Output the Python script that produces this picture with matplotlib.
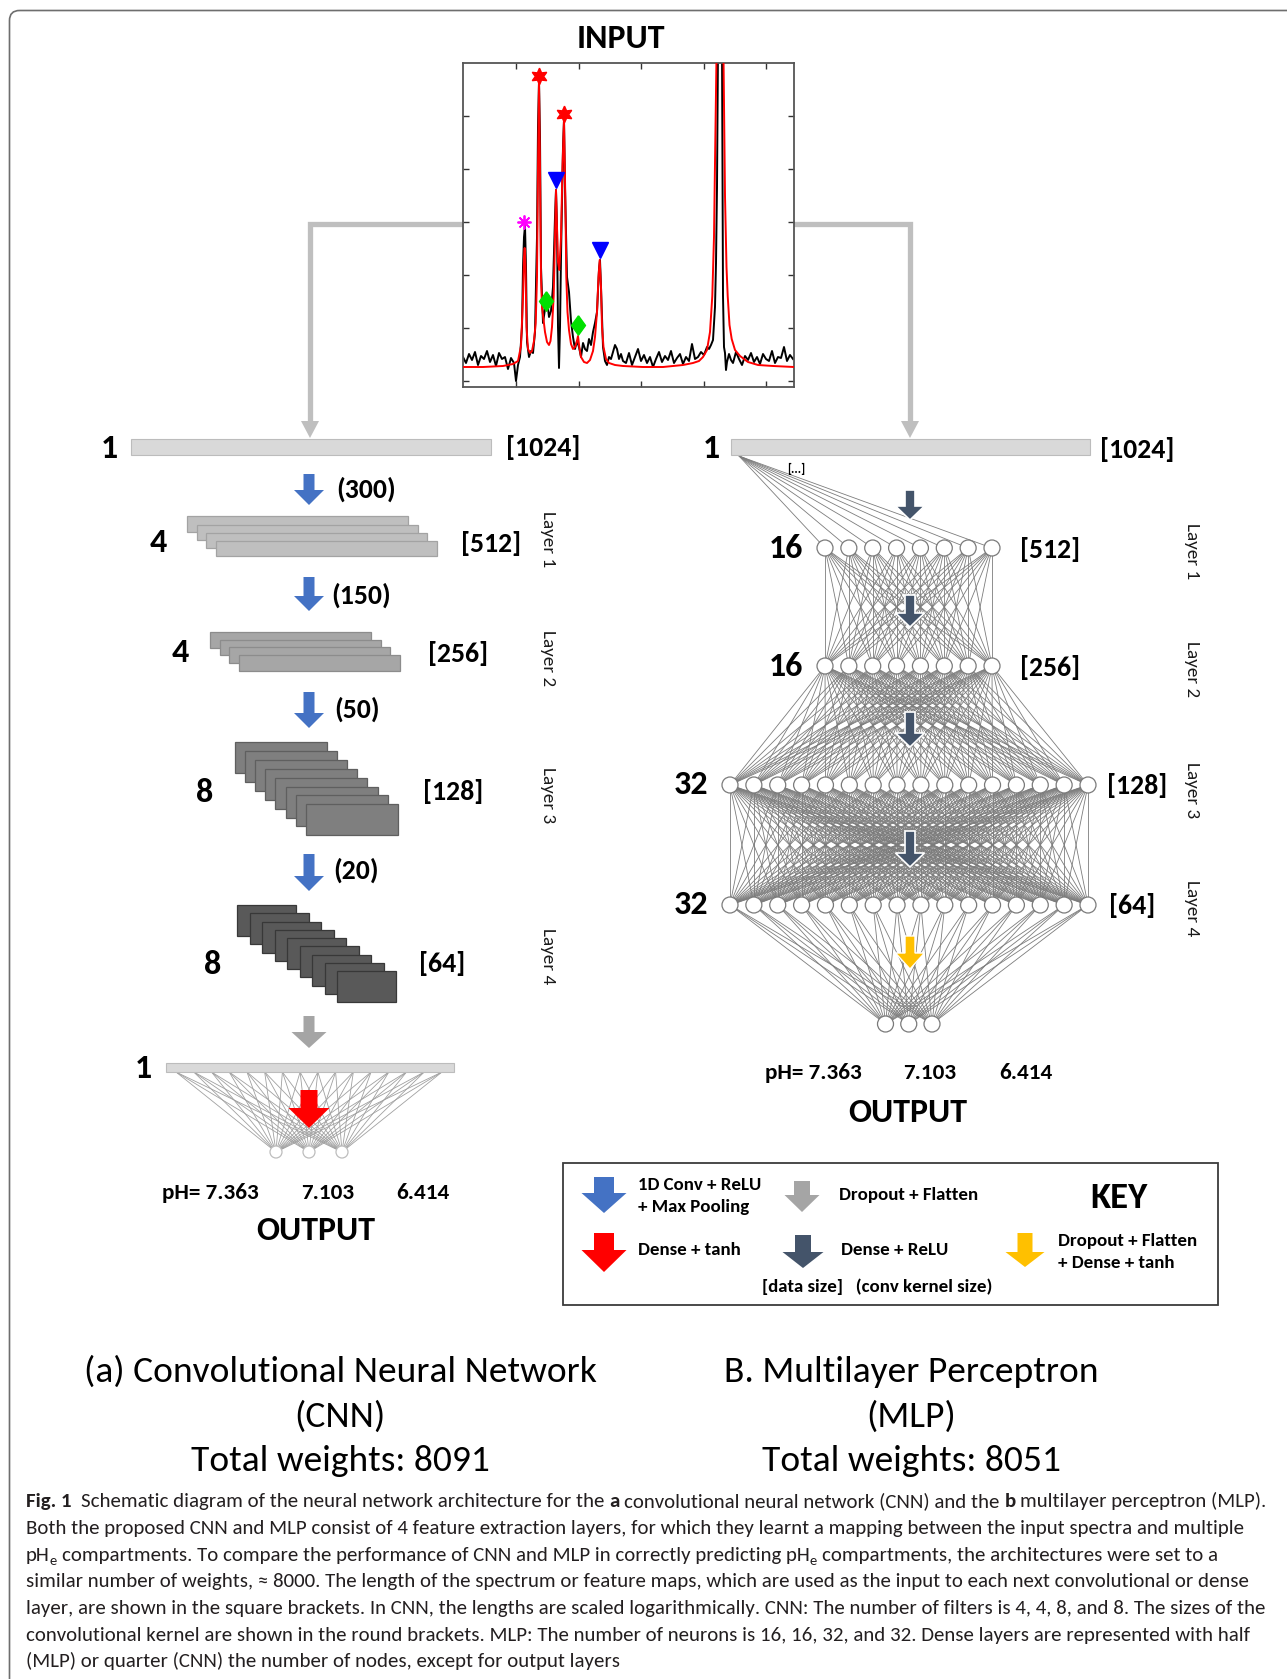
import numpy as np
import matplotlib
matplotlib.use("Agg")
import matplotlib.pyplot as plt
from matplotlib import font_manager as fm
from matplotlib.patches import Rectangle, Polygon, Circle, FancyBboxPatch
from matplotlib.collections import LineCollection

# ---------------- data ----------------
input_length = 1024
cnn_lengths = [512, 256, 128, 64]
cnn_filters = [4, 4, 8, 8]
cnn_kernels = [300, 150, 50, 20]
mlp_lengths = [512, 256, 128, 64]
mlp_neurons = [16, 16, 32, 32]
ph_outputs = [7.363, 7.103, 6.414]
cnn_total_weights = 8091
mlp_total_weights = 8051

# input spectrum (arbitrary units)
spec_x = [0, 3, 6, 9, 12, 15, 18, 21, 24, 27, 30, 33, 36, 39, 42, 45, 48, 51, 53, 55,
          57, 59, 60, 61, 62, 63, 64, 66, 68, 70, 72, 74, 75, 76, 77, 78, 80, 82, 84, 86,
          88, 90, 92, 93, 94, 95, 96, 97, 98, 100, 101, 102, 104, 106, 108, 110, 112, 114, 116, 118,
          120, 122, 124, 126, 128, 130, 132, 134, 136, 137, 138, 140, 142, 144, 146, 148, 150, 152, 154, 156,
          158, 160, 163, 166, 169, 172, 175, 178, 181, 184, 187, 190, 193, 196, 199, 202, 205, 208, 211, 214,
          217, 220, 223, 226, 229, 232, 235, 238, 241, 244, 246, 248, 250, 252, 253, 254, 255, 257, 259, 260,
          261, 262, 263, 264, 266, 268, 270, 273, 276, 279, 282, 285, 288, 291, 294, 297, 300, 303, 306, 309,
          312, 315, 318, 321, 324, 327, 330]
spec_black = [30, 24, 33, 27, 35, 22, 31, 28, 36, 25, 32, 21, 34, 28, 30, 18, 29, 24, 6, 22,
              30, 60, 120, 150, 161, 120, 45, 30, 36, 34, 55, 150, 260, 306, 250, 120, 64, 78, 88, 70,
              76, 100, 170, 197, 160, 60, 19, 60, 130, 240, 267, 200, 110, 95, 66, 50, 38, 46, 40, 30,
              44, 38, 36, 48, 42, 55, 64, 75, 118, 127, 100, 40, 26, 22, 30, 28, 35, 42, 38, 28,
              33, 26, 24, 34, 22, 30, 38, 26, 32, 24, 30, 20, 28, 35, 25, 31, 27, 36, 24, 29,
              33, 23, 30, 26, 43, 28, 30, 35, 32, 40, 38, 42, 47, 80, 124, 200, 340, 360, 340, 91,
              40, 34, 17, 25, 33, 27, 24, 35, 28, 22, 31, 27, 34, 25, 30, 23, 33, 28, 26, 36,
              24, 30, 29, 40, 26, 32, 28]
fit_x = [0, 20, 40, 50, 55, 58, 60, 61, 61.7, 62.5, 63.5, 65, 67, 69, 71, 72.7, 74, 75, 76, 77,
         78, 79, 80.7, 82, 84, 86, 87.5, 89, 90.7, 92, 93, 94, 95, 96.3, 98, 99.5, 101, 102.3, 103.3, 104.5,
         106, 108, 110, 112, 113.5, 115, 116.3, 118, 121, 124, 127, 130, 132, 134, 135.5, 136.7, 138, 139, 140.5, 143,
         146, 152, 160, 180, 200, 220, 230, 236, 240, 244, 247, 249.3, 251, 252, 253.5, 257, 260.5, 262, 263.5, 264.7,
         266.5, 268.7, 272, 277, 285, 295, 310, 331]
fit_red = [20, 20, 21, 23, 26, 41, 90, 130, 139, 120, 60, 38, 34, 36, 46, 64, 110, 220, 306, 220,
           110, 80, 66, 55, 45, 42, 46, 60, 91, 150, 197, 160, 125, 117, 150, 220, 267, 190, 110, 75,
           57, 43, 38, 40, 44, 51, 40, 30, 25, 24, 27, 36, 50, 75, 110, 127, 100, 60, 40, 28,
           24, 22, 21, 20, 20, 22, 24, 26, 30, 37, 55, 91, 150, 224, 330, 500, 330, 191, 120, 91,
           62, 48, 37, 31, 25, 22, 21, 20]
star_x, star_y = [76, 101], [311, 273]
tri_x, tri_y = [93, 136.7], [207, 137]
dia_x, dia_y = [82.7, 115], [86, 62]
ast_x, ast_y = [61], [165]
spec_xticks = [53.3, 115.8, 178.3, 240.8, 303.3]
spec_yticks = [5.7, 58.7, 111.7, 164.7, 217.7, 270.7]

# ---------------- fonts ----------------
_names = {f.name for f in fm.fontManager.ttflist}
def pick(cands):
    for c in cands:
        if c in _names:
            return c
    return "DejaVu Sans"
DIAG = pick(["Carlito", "Lato", "Open Sans", "DejaVu Sans"])
CAPF = pick(["Carlito", "Liberation Sans Narrow", "Roboto", "Lato", "DejaVu Sans"])

W, H = 1287, 1679
fig = plt.figure(figsize=(W / 100, H / 100), dpi=100)
ax = fig.add_axes([0, 0, 1, 1])
ax.set_xlim(0, W)
ax.set_ylim(H, 0)
ax.axis("off")
renderer = fig.canvas.get_renderer()


def T(x, y, s, size, bold=True, **kw):
    kw.setdefault("ha", "center")
    kw.setdefault("va", "center")
    color = kw.pop("color", "black")
    return ax.text(x, y, s, fontsize=size, fontweight="bold" if bold else "normal",
                   family=DIAG, color=color, **kw)


def down_arrow(x, y0, y1, yh, sw, hw, color, ec="none", lw=0.0, z=6):
    pts = [(x - sw / 2, y0), (x + sw / 2, y0), (x + sw / 2, yh), (x + hw / 2, yh),
           (x, y1), (x - hw / 2, yh), (x - sw / 2, yh)]
    ax.add_patch(Polygon(pts, closed=True, fc=color, ec=ec, lw=lw, zorder=z, joinstyle="miter"))


# text sizes (pt)
S_BIG = 24.5      # INPUT / OUTPUT / layer counts
S_LEN = 20        # [1024], (300)
S_PH = 16.7
S_LAYER = 13.8
S_KEY = 13.6

# outer rounded frame
ax.add_patch(FancyBboxPatch((9.5, 10.5), 1500, 1900, boxstyle="round,pad=0,rounding_size=10",
                            fc="none", ec="#6e6e6e", lw=1.2, zorder=1))

# ---------------- INPUT ----------------
T(621, 38, "INPUT", S_BIG)
sax = fig.add_axes([463 / W, 1 - 387 / H, 331 / W, 324 / H], zorder=3)
sax.plot(spec_x, spec_black, color="black", lw=1.4, zorder=2)
sax.plot(fit_x, fit_red, color="#ff0000", lw=1.4, zorder=3)
sax.plot(star_x, star_y, ls="none", marker=(6, 1, 0), ms=12, color="#ff0000", zorder=5)
sax.plot(tri_x, tri_y, ls="none", marker="v", ms=11, color="#0000ff", zorder=5)
sax.plot(dia_x, dia_y, ls="none", marker=[(0, 1), (0.72, 0), (0, -1), (-0.72, 0), (0, 1)],
         ms=14, color="#00e000", zorder=5)
sax.plot(ast_x, ast_y, ls="none", marker=(8, 2, 0), ms=10, mew=1.3, color="#ff00ff", zorder=5)
sax.set_xlim(0, 331)
sax.set_ylim(0, 324)
sax.set_xticks(spec_xticks)
sax.set_yticks(spec_yticks)
sax.tick_params(direction="in", length=4, width=1, top=True, right=True,
                labelbottom=False, labelleft=False, color="#333333")
for sp in sax.spines.values():
    sp.set_color("#555555")
    sp.set_linewidth(1.3)

# connectors from the spectrum
conn_c = "#bfbfbf"
ax.plot([463, 310, 310], [223.5, 223.5, 424], color=conn_c, lw=3.8, solid_joinstyle="miter", zorder=2)
ax.plot([794, 910, 910], [223.5, 223.5, 424], color=conn_c, lw=3.8, solid_joinstyle="miter", zorder=2)
for cx in (310, 910):
    ax.add_patch(Polygon([(cx - 9, 421), (cx + 9, 421), (cx, 438)], fc=conn_c, ec="none", zorder=4))

# ---------------- CNN ----------------
ax.add_patch(Rectangle((131, 439), 360, 16, fc="#d9d9d9", ec="#bcbcbc", lw=0.8, zorder=3))
T(109, 448, "1", S_BIG)
T(543, 448, f"[{input_length}]", S_LEN)

blue = "#4472c4"
cnn_arrows = [(474, 505), (577, 611), (692, 728), (854, 891)]
kernel_pos = [(366, 489), (361, 595), (357, 709), (356, 870)]
for (y0, y1), (kx, ky), k in zip(cnn_arrows, kernel_pos, cnn_kernels):
    down_arrow(309, y0, y1, y1 - 15, 11, 30, blue)
    T(kx, ky, f"({k})", S_LEN)

# feature map stacks: x0, y0, w, h, dx, dy, n drawn, face, edge
stacks = [
    (187, 516.4, 221, 15.5, 9.7, 8.1, 4, "#bfbfbf", "#a3a3a3"),
    (210, 632, 161, 15.7, 9.7, 7.7, 4, "#a6a6a6", "#8c8c8c"),
    (235, 742, 92, 31, 10.1, 8.9, 8, "#7f7f7f", "#5f5f5f"),
    (237, 905, 59, 31, 12.5, 8.25, 9, "#595959", "#383838"),
]
for (x0, y0, w, h, dx, dy, n, fc, ec) in stacks:
    for i in range(n):
        ax.add_patch(Rectangle((x0 + i * dx, y0 + i * dy), w, h, fc=fc, ec=ec, lw=0.9, zorder=3 + i * 0.01))

cnn_filter_pos = [(158, 543), (180, 653), (205, 792), (213, 964)]
cnn_len_pos = [(491, 543), (458, 653), (453, 792), (442, 964)]
cnn_layer_y = [539, 658, 795, 956]
for i in range(4):
    T(*cnn_filter_pos[i], str(cnn_filters[i]), S_BIG)
    T(*cnn_len_pos[i], f"[{cnn_lengths[i]}]", S_LEN)
    T(548, cnn_layer_y[i], f"Layer {i + 1}", S_LAYER, bold=False, rotation=-90, color="#1a1a1a")

# flatten + output
down_arrow(309, 1016, 1048, 1032, 11, 35, "#a5a5a5")
ax.add_patch(Rectangle((166, 1063), 288, 9, fc="#d9d9d9", ec="#bcbcbc", lw=0.8, zorder=3))
T(143, 1068, "1", S_BIG)
cnn_out_x = np.array([276, 309, 342])
tops = np.linspace(176, 442, 16)
segs = [[(tx, 1072), (ox, 1152)] for tx in tops for ox in cnn_out_x]
ax.add_collection(LineCollection(segs, colors="#a0a0a0", linewidths=0.6, zorder=2))
for ox in cnn_out_x:
    ax.add_patch(Circle((ox, 1152), 6, fc="white", ec="#bdbdbd", lw=0.9, zorder=4))
down_arrow(309, 1090, 1128, 1108, 17, 41, "#ff0000", z=7)
for px, val in zip([210, 328, 423], ph_outputs):
    T(px, 1193, (f"pH= {val:.3f}" if px == 210 else f"{val:.3f}"), S_PH)
T(316, 1230, "OUTPUT", S_BIG)

# ---------------- MLP ----------------
ax.add_patch(Rectangle((730.6, 439), 359.2, 16, fc="#d9d9d9", ec="#bcbcbc", lw=0.8, zorder=3))
T(711.7, 449, "1", S_BIG)
T(1137, 449, f"[{input_length}]", S_LEN)
T(796, 469, "[...]", 9)

mlp_drawn = [n // 2 for n in mlp_neurons]
layer_span = {8: (825, 992), 16: (730, 1088)}
mlp_y = [548, 666, 785, 905]
layers = [np.linspace(*layer_span[n], n) for n in mlp_drawn]
out_x = np.linspace(885.5, 932, len(ph_outputs))
out_y = 1024
segs = [[(739, 456), (x, mlp_y[0])] for x in layers[0]]
for li in range(3):
    segs += [[(a, mlp_y[li]), (b, mlp_y[li + 1])] for a in layers[li] for b in layers[li + 1]]
segs += [[(a, mlp_y[3]), (b, out_y)] for a in layers[3] for b in out_x]
ax.add_collection(LineCollection(segs, colors="#7c7c7c", linewidths=0.6, zorder=2))
for li in range(4):
    for x in layers[li]:
        ax.add_patch(Circle((x, mlp_y[li]), 8, fc="white", ec="#7a7a7a", lw=0.9, zorder=4))
for x in out_x:
    ax.add_patch(Circle((x, out_y), 8, fc="white", ec="#7a7a7a", lw=0.9, zorder=4))

dark = "#44546a"
for (y0, y1) in [(490, 520), (595, 627), (712, 747), (831, 867)]:
    down_arrow(910, y0, y1, y1 - 14, 10, 29, dark, ec="white", lw=1.2, z=7)
down_arrow(910, 936, 969, 953, 10, 29, "#ffc000", ec="white", lw=1.0, z=7)

mlp_num_pos = [(786, 549), (786, 667), (691, 785), (691, 905)]
mlp_len_pos = [(1050, 549), (1050, 667), (1137, 785), (1132, 905)]
mlp_layer_y = [551, 669, 790, 908]
for i in range(4):
    T(*mlp_num_pos[i], str(mlp_neurons[i]), S_BIG)
    T(*mlp_len_pos[i], f"[{mlp_lengths[i]}]", S_LEN)
    T(1192, mlp_layer_y[i], f"Layer {i + 1}", S_LAYER, bold=False, rotation=-90, color="#1a1a1a")
for px, val in zip([813, 930, 1026], ph_outputs):
    T(px, 1073, (f"pH= {val:.3f}" if px == 813 else f"{val:.3f}"), S_PH)
T(908, 1113, "OUTPUT", S_BIG)

# ---------------- KEY ----------------
ax.add_patch(Rectangle((563, 1163), 655, 142, fc="none", ec="#3c3c3c", lw=1.3, zorder=3))
down_arrow(604, 1177, 1213, 1193, 20, 45, blue)
down_arrow(802, 1181, 1212, 1195, 16, 35, "#a5a5a5")
down_arrow(604, 1233, 1272, 1250, 20, 45, "#ff0000")
down_arrow(803, 1235, 1268, 1252, 16, 41, dark)
down_arrow(1025, 1233, 1267, 1252, 15, 39, "#ffc000")
T(638, 1185, "1D Conv + ReLU", S_KEY, ha="left")
T(638, 1207, "+ Max Pooling", S_KEY, ha="left")
T(839, 1195, "Dropout + Flatten", S_KEY, ha="left")
T(1119, 1198, "KEY", 26.5)
T(638, 1250, "Dense + tanh", S_KEY, ha="left")
T(841, 1250, "Dense + ReLU", S_KEY, ha="left")
T(762, 1287, "[data size]   (conv kernel size)", S_KEY, ha="left")
T(1058, 1241, "Dropout + Flatten", S_KEY, ha="left")
T(1058, 1263, "+ Dense + tanh", S_KEY, ha="left")

# ---------------- titles ----------------
probe = ax.text(0, 0, "(a) Convolutional Neural Network", fontsize=20, family=CAPF)
TS = 20 * 512 / probe.get_window_extent(renderer).width
probe.remove()
titles = [
    (340, 1372, "(a) Convolutional Neural Network"),
    (340, 1417, "(CNN)"),
    (340, 1461, f"Total weights: {cnn_total_weights}"),
    (911, 1372, "B. Multilayer Perceptron"),
    (911, 1417, "(MLP)"),
    (911, 1461, f"Total weights: {mlp_total_weights}"),
]
for x, y, s in titles:
    ax.text(x, y, s, fontsize=TS, family=CAPF, ha="center", va="center", color="black")

# ---------------- caption ----------------
f_str = ", ".join(str(v) for v in cnn_filters[:-1]) + f", and {cnn_filters[-1]}"
n_str = ", ".join(str(v) for v in mlp_neurons[:-1]) + f", and {mlp_neurons[-1]}"
cap_lines = [
    [("Fig. 1", "b", 0), ("Schematic diagram of the neural network architecture for the", "n", 2),
     ("a", "b", 1), ("convolutional neural network (CNN) and the", "n", 1), ("b", "b", 1),
     ("multilayer perceptron (MLP).", "n", 1)],
    [("Both the proposed CNN and MLP consist of 4 feature extraction layers, for which they learnt a mapping between the input spectra and multiple", "n", 0)],
    [("pH", "n", 0), ("e", "s", 0), ("compartments. To compare the performance of CNN and MLP in correctly predicting pH", "n", 1),
     ("e", "s", 0), ("compartments, the architectures were set to a", "n", 1)],
    [("similar number of weights, \u2248 8000. The length of the spectrum or feature maps, which are used as the input to each next convolutional or dense", "n", 0)],
    [(f"layer, are shown in the square brackets. In CNN, the lengths are scaled logarithmically. CNN: The number of filters is {f_str}. The sizes of the", "n", 0)],
    [(f"convolutional kernel are shown in the round brackets. MLP: The number of neurons is {n_str}. Dense layers are represented with half", "n", 0)],
    [("(MLP) or quarter (CNN) the number of nodes, except for output layers", "n", 0)],
]
cap_targets = [1240, 1217, 1196, 1217, 1215, 1203]
cap_base = [1507, 1534, 1561, 1587, 1614, 1641, 1667]
CAPC = "#231f20"


def tok_w(s, size, style):
    t = ax.text(0, 0, s, fontsize=size * (0.7 if style == "s" else 1.0),
                fontweight="bold" if style == "b" else "normal", family=CAPF)
    w = t.get_window_extent(renderer).width
    t.remove()
    return w


def line_layout(tokens, size, x0=None, y=None):
    sp = tok_w("a a", size, "n") - tok_w("aa", size, "n")
    x = 0.0 if x0 is None else x0
    for s, style, gap in tokens:
        x += gap * sp
        w = tok_w(s, size, style)
        if x0 is not None:
            ax.text(x, y + (4 if style == "s" else 0), s,
                    fontsize=size * (0.7 if style == "s" else 1.0),
                    fontweight="bold" if style == "b" else "normal",
                    family=CAPF, ha="left", va="baseline", color=CAPC)
        x += w
    return x if x0 is None else x - x0


base = 12.0
scales = [tgt / line_layout(cap_lines[i], base) for i, tgt in enumerate(cap_targets)]
CS = base * float(np.median(scales))
for toks, yb in zip(cap_lines, cap_base):
    line_layout(toks, CS, 26, yb)

fig.savefig("out.png", dpi=100)
